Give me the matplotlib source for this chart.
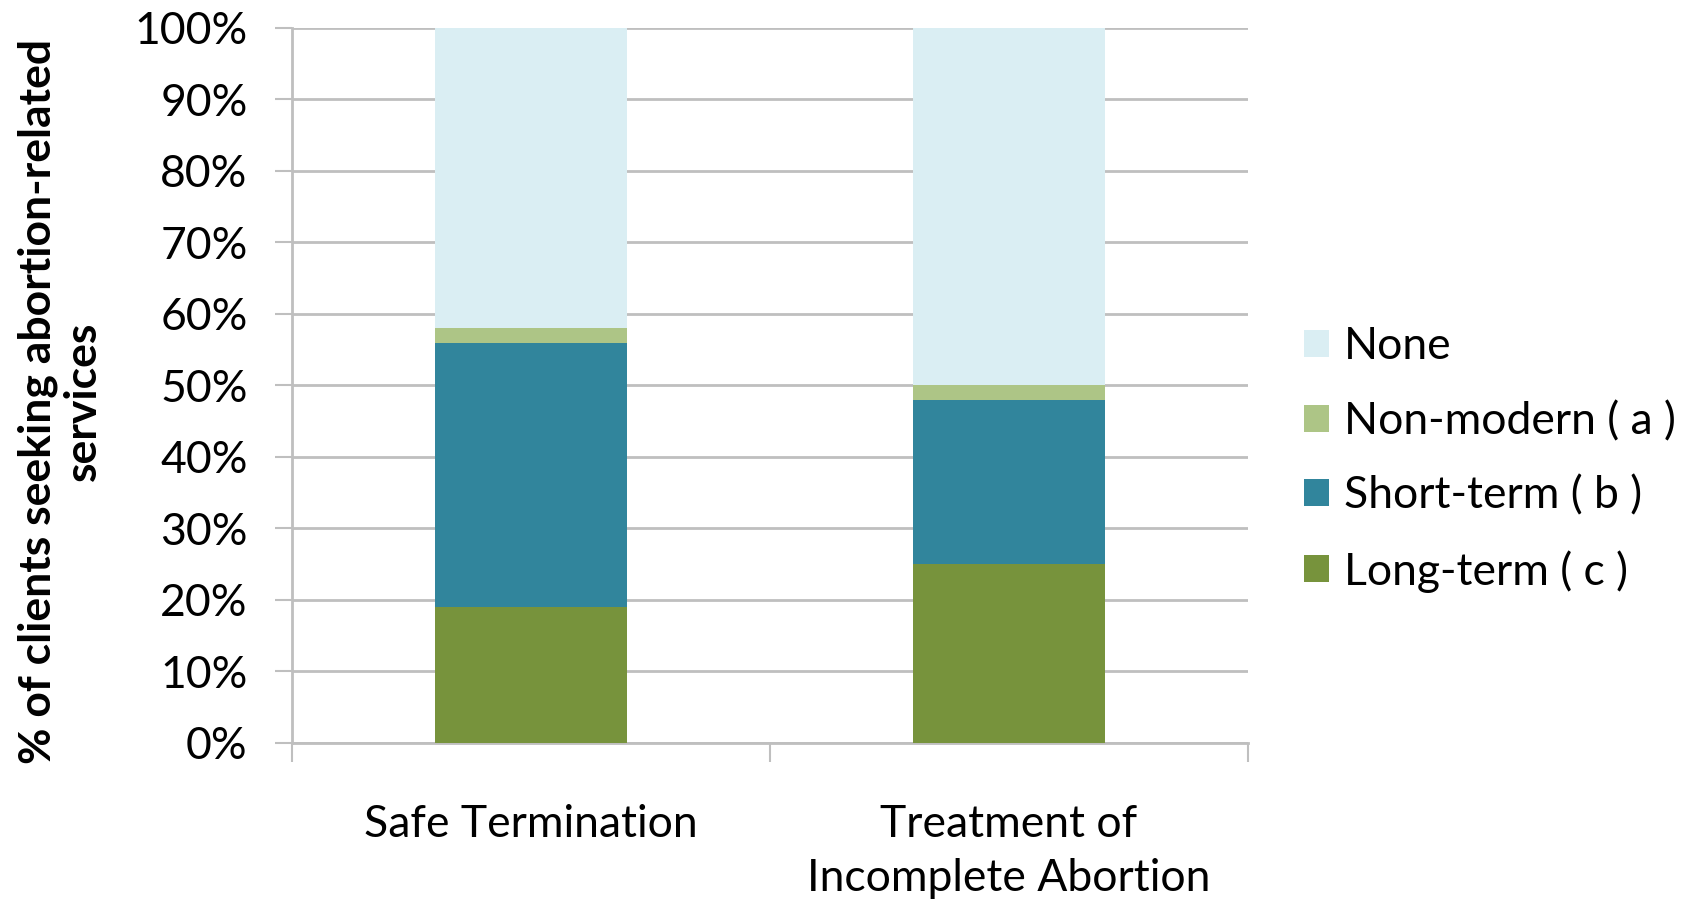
import numpy as np
import matplotlib
matplotlib.use("Agg")
import matplotlib.pyplot as plt

plt.rcParams['font.family'] = ['Lato', 'DejaVu Sans']

categories = ['Safe Termination', 'Treatment of\nIncomplete Abortion']
long_term = [19, 25]
short_term = [37, 23]
non_modern = [2, 2]
none = [42, 50]

series = [
    ('Long-term ( c )', long_term, '#77933C'),
    ('Short-term ( b )', short_term, '#31859C'),
    ('Non-modern ( a )', non_modern, '#ADC586'),
    ('None', none, '#DAEEF3'),
]

fig = plt.figure(figsize=(16.86, 9.01), dpi=100)
ax = fig.add_axes([0.1732, 0.1754, 0.567, 0.7936])

x = np.arange(len(categories))
bottom = np.zeros(len(categories))
handles = []
for label, vals, color in series:
    b = ax.bar(x, vals, width=0.4, bottom=bottom, color=color, label=label,
               zorder=3)
    handles.append(b)
    bottom += np.array(vals)

ax.set_xlim(-0.5, len(categories) - 0.5)
ax.set_ylim(0, 100)
ax.set_yticks(np.arange(0, 101, 10))
ax.set_yticklabels([f'{v}%' for v in range(0, 101, 10)], fontsize=32)
ax.grid(axis='y', color='#BFBFBF', linewidth=2, zorder=0)

# category labels between boundary ticks
ax.set_xticks([-0.5, 0.5, 1.5])
ax.set_xticklabels([])
ax.set_xticks(x, minor=True)
ax.set_xticklabels(categories, minor=True, fontsize=32, linespacing=1.4)
ax.tick_params(axis='x', which='minor', length=0, pad=44)
ax.tick_params(axis='x', which='major', length=14, width=1.5, color='#BFBFBF')
ax.tick_params(axis='y', length=12, width=1.5, color='#BFBFBF', pad=20)

for s in ['top', 'right']:
    ax.spines[s].set_visible(False)
for s in ['left', 'bottom']:
    ax.spines[s].set_color('#BFBFBF')
    ax.spines[s].set_linewidth(2)

fig.text(0.036, 0.555, '% of clients seeking abortion-related\nservices',
         rotation=90, ha='center', va='center', fontsize=32,
         fontweight='bold', linespacing=1.15)

ax.legend(handles[::-1], [h.get_label() for h in handles[::-1]],
          loc='center left', bbox_to_anchor=(0.763, 0.49),
          bbox_transform=fig.transFigure, frameon=False, fontsize=32,
          handlelength=0.55, handleheight=0.55, handletextpad=0.35,
          labelspacing=0.75, borderaxespad=0)

fig.savefig('out.png', dpi=100)
